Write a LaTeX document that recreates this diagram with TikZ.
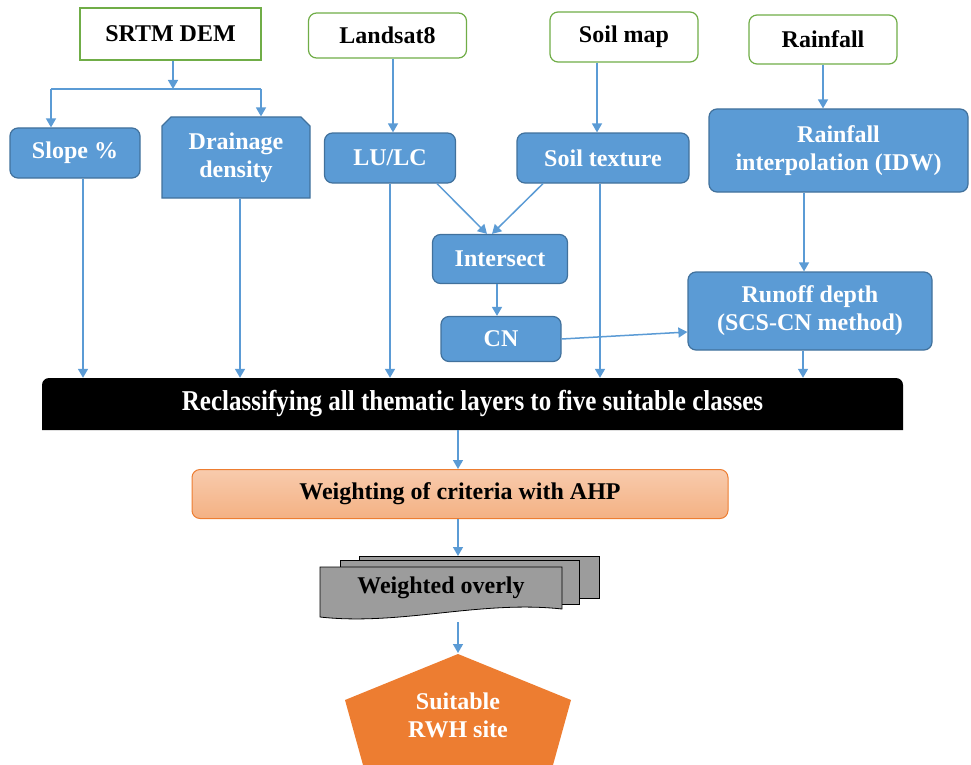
\documentclass[tikz,border=0pt]{standalone}
\usepackage{fontspec}
\setmainfont{Liberation Serif}
\usetikzlibrary{arrows.meta,shapes.misc}
\definecolor{boxblue}{HTML}{5B9BD5}
\definecolor{boxedge}{HTML}{41719C}
\definecolor{srcgreen}{HTML}{70AD47}
\definecolor{ahptop}{HTML}{F8CBAD}
\definecolor{ahpfill}{HTML}{F4B183}
\definecolor{ahpedge}{HTML}{ED7D31}
\definecolor{siteorange}{HTML}{ED7D31}
\definecolor{docgray}{HTML}{9C9C9C}

\begin{document}
\begin{tikzpicture}[x=1pt,y=-1pt,
    every node/.style={font=\fontsize{24}{28}\selectfont\bfseries, align=center, inner sep=0pt},
    source/.style={draw=srcgreen, line width=1.2pt, fill=white, rounded corners=8pt},
    layer/.style={draw=boxedge, line width=1.2pt, fill=boxblue, text=white, rounded corners=8pt},
    link/.style={draw=boxblue, line width=1.5pt},
    flow/.style={link, -{Triangle[width=10pt,length=9pt]}}]
    \useasboundingbox (0,0) rectangle (971,765);

    \begin{scope}
	\node[source, sharp corners, minimum width=181pt, minimum height=52pt] (srtm) at (170.5,34) {SRTM DEM};
	\node[source, minimum width=158pt, minimum height=45pt] (landsat) at (387.5,35.5) {Landsat8};
	\node[source, minimum width=148pt, minimum height=50pt] (soilmap) at (624,37) {Soil map};
	\node[source, minimum width=148pt, minimum height=49pt] (rain) at (823,39.5) {Rainfall};
    \end{scope}

    \begin{scope}
	\node[layer, minimum width=130pt, minimum height=50pt] (slope) at (75,153) {Slope \%};
	\node[layer, sharp corners, chamfered rectangle, chamfered rectangle corners={north west,north east},
	    chamfered rectangle xsep=6pt, minimum width=148pt, minimum height=81pt] (drain) at (236,157.5) {Drainage\\density};
	\node[layer, minimum width=131pt, minimum height=50pt] (lulc) at (390,158) {LU/LC};
	\node[layer, minimum width=172pt, minimum height=50pt] (soiltex) at (603,158) {Soil texture};
	\node[layer, minimum width=259pt, minimum height=83pt] (rainint) at (838.5,150.5) {Rainfall\\interpolation (IDW)};
	\node[layer, minimum width=135pt, minimum height=49pt] (isect) at (500,259) {Intersect};
	\node[layer, minimum width=120pt, minimum height=45pt] (cn) at (501,339) {CN};
	\node[layer, minimum width=244pt, minimum height=78pt] (runoff) at (810,311) {Runoff depth\\(SCS-CN method)};
    \end{scope}

    \fill (42,430) [rounded corners=7pt] -- (42,378) -- (903,378) [sharp corners] -- (903,430) -- cycle;
    \node[text=white, font=\fontsize{25}{28}\selectfont\bfseries, minimum width=861pt, minimum height=52pt] (reclass) at (472.5,404)
	{\scalebox{1}[1.15]{Reclassifying all thematic layers to five suitable classes}};

    \node[draw=ahpedge, line width=1pt, top color=ahptop, bottom color=ahpfill, rounded corners=8pt,
	minimum width=536pt, minimum height=49pt] (ahp) at (460,494) {Weighting of criteria with AHP};

    \begin{scope}[line width=0.8pt]
	\draw[fill=docgray] (359,556) rectangle (599,598);
	\draw[fill=docgray] (340,560) rectangle (579,604);
	\draw[fill=docgray] (320,567) -- (562,567) -- (562,609) .. controls (480,600) and (400,626) .. (320,617) -- cycle;
	\node (overly) at (441,588) {Weighted overly};
    \end{scope}

    \fill[siteorange] (458,654) -- (571,700) -- (553,765) -- (363,765) -- (345,700) -- cycle;
    \node[text=white] (site) at (458,715) {Suitable\\RWH site};

    \coordinate (split) at (173,89);
    \coordinate (splitL) at (51,89);
    \coordinate (splitR) at (261,89);
    \coordinate (doctop) at (458,556);
    \coordinate (docbot) at (458,622);
    \coordinate (sitetop) at (458,653);

    \draw[flow] (srtm.south -| split) -- (split);
    \draw[link] (splitL) -- (splitR);
    \draw[flow] (splitL) -- (splitL |- slope.north);
    \draw[flow] (splitR) -- (splitR |- drain.north);
    \draw[flow] ([xshift=3pt]lulc.north |- landsat.south) -- ([xshift=3pt]lulc.north);
    \draw[flow] ([xshift=-6pt]soiltex.north |- soilmap.south) -- ([xshift=-6pt]soiltex.north);
    \draw[flow] (rain.south) -- (rain.south |- rainint.north);
    \draw[flow] ([xshift=47pt]lulc.south) -- ([xshift=-13pt]isect.north);
    \draw[flow] ([xshift=-60pt]soiltex.south) -- ([xshift=-8pt]isect.north);
    \draw[flow] ([xshift=-3pt]isect.south) -- ([xshift=-3pt]isect.south |- cn.north);
    \draw[flow] (cn.east) -- ([yshift=-21pt]runoff.west);
    \draw[flow] ([xshift=-6pt]runoff.north |- rainint.south) -- ([xshift=-6pt]runoff.north);

    \draw[flow] ([xshift=8pt]slope.south) -- ([xshift=8pt]slope.south |- reclass.north);
    \draw[flow] ([xshift=4pt]drain.south) -- ([xshift=4pt]drain.south |- reclass.north);
    \draw[flow] (lulc.south) -- (lulc.south |- reclass.north);
    \draw[flow] ([xshift=-3pt]soiltex.south) -- ([xshift=-3pt]soiltex.south |- reclass.north);
    \draw[flow] ([xshift=-7pt]runoff.south) -- ([xshift=-7pt]runoff.south |- reclass.north);

    \draw[flow] (reclass.south -| doctop) -- (ahp.north -| doctop);
    \draw[flow] (ahp.south -| doctop) -- (doctop);
    \draw[flow] (docbot) -- (sitetop);
\end{tikzpicture}
\end{document}
